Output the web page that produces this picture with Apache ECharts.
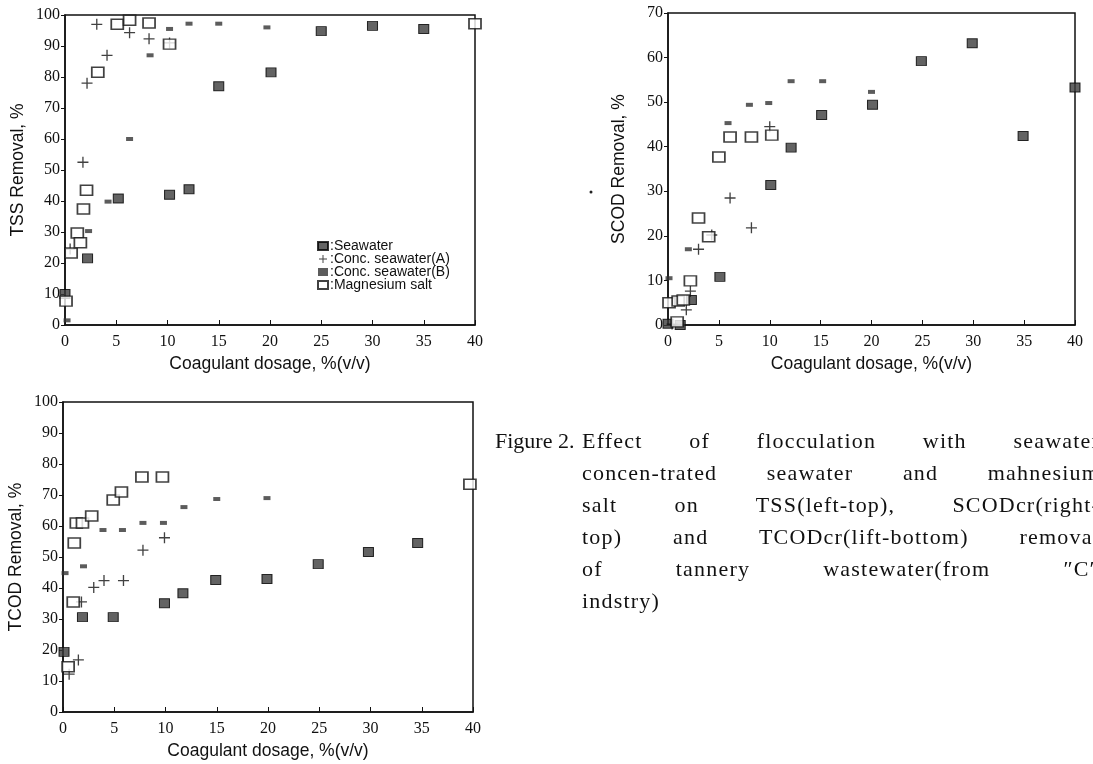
<!DOCTYPE html>
<html>
<head>
<meta charset="utf-8">
<script src="https://cdn.jsdelivr.net/npm/echarts@6/dist/echarts.min.js"></script>
<style>
html, body { margin: 0; padding: 0; background: #fff; overflow: hidden; }
#chart { position: absolute; left: 0; top: 0; width: 1093px; height: 764px; }
.cap { position: absolute; font-family: "Liberation Serif", serif; font-size: 22px; letter-spacing: 1.2px; color: #111; line-height: 24px; white-space: nowrap; }
.just { width: 518px; text-align: justify; text-align-last: justify; white-space: normal; }
</style>
</head>
<body>
<div id="chart"></div>
<div class="cap" style="left:495px;top:429px;letter-spacing:0;">Figure 2.</div>
<div class="cap just" style="left:582px;top:429px;">Effect of flocculation with seawater</div>
<div class="cap just" style="left:582px;top:461px;">concen-trated seawater and mahnesium</div>
<div class="cap just" style="left:582px;top:493px;">salt on TSS(left-top), SCODcr(right-</div>
<div class="cap just" style="left:582px;top:525px;">top) and TCODcr(lift-bottom) removal</div>
<div class="cap just" style="left:582px;top:557px;">of tannery wastewater(from &#8243;C&#8243;</div>
<div class="cap" style="left:582px;top:589px;">indstry)</div>
<script>
// 系列名称
var seriesNames = ['Seawater', 'Conc. seawater(A)', 'Conc. seawater(B)', 'Magnesium salt'];

// TSS (左上)
var tssSeawater = [[0, 10], [2.2, 21.5], [5.2, 40.8], [10.2, 42], [12.1, 43.8], [15, 77], [20.1, 81.5], [25, 94.8], [30, 96.5], [35, 95.5]];
var tssConcA = [[0.5, 24.5], [1.75, 52.5], [2.15, 78], [3.1, 97], [4.1, 87], [6.3, 94.3], [8.2, 92.3], [10.2, 91]];
var tssConcB = [[0.2, 1.5], [2.3, 30.3], [4.2, 39.8], [6.3, 60], [8.3, 87], [10.2, 95.5], [12.1, 97.2], [15, 97.2], [19.7, 96]];
var tssMg = [[0.1, 7.7], [0.6, 23.2], [1.2, 29.7], [1.5, 26.5], [1.8, 37.4], [2.1, 43.5], [3.2, 81.5], [5.1, 97], [6.3, 98.3], [8.2, 97.4], [10.2, 90.6], [40, 97.2]];

// SCOD (右上)
var scodSeawater = [[0, 0.3], [1.2, 0], [2.3, 5.6], [5.1, 10.8], [10.1, 31.4], [12.1, 39.8], [15.1, 47.1], [20.1, 49.4], [24.9, 59.2], [29.9, 63.2], [34.9, 42.4], [40, 53.3]];
var scodConcA = [[0.4, 0.2], [1.8, 3.4], [2.2, 7.6], [3.0, 17], [4.3, 20.2], [6.1, 28.5], [8.2, 21.8], [10, 44.5]];
var scodConcB = [[0.1, 10.5], [2.0, 17], [5.9, 45.3], [8.0, 49.4], [9.9, 49.8], [12.1, 54.7], [15.2, 54.7], [20, 52.3]];
var scodMg = [[0.1, 5.0], [0.9, 0.7], [1.0, 5.4], [1.5, 5.6], [2.2, 9.9], [3.0, 24.0], [4.0, 19.8], [5.0, 37.7], [6.1, 42.2], [8.2, 42.2], [10.2, 42.6]];

// TCOD (左下)
var tcodSeawater = [[0.1, 19.4], [1.9, 30.6], [4.9, 30.6], [9.9, 35.1], [11.7, 38.3], [14.9, 42.6], [19.9, 42.9], [24.9, 47.7], [29.8, 51.6], [34.6, 54.5]];
var tcodConcA = [[0.6, 12.2], [1.5, 16.8], [1.8, 35.5], [3.0, 40.2], [4.0, 42.4], [5.9, 42.4], [7.8, 52.2], [9.9, 56.2]];
var tcodConcB = [[0.2, 44.8], [2.0, 47], [3.9, 58.7], [5.8, 58.7], [7.8, 61], [9.8, 61], [11.8, 66.1], [15, 68.7], [19.9, 69]];
var tcodMg = [[0.5, 14.6], [1.0, 35.5], [1.1, 54.5], [1.3, 61], [1.9, 61], [2.8, 63.2], [4.9, 68.4], [5.7, 71], [7.7, 75.8], [9.7, 75.8], [39.7, 73.5]];

var crossPath = 'path://M4.4,0h1.2v4.4h4.4v1.2h-4.4v4.4h-1.2v-4.4h-4.4v-1.2h4.4z';

var styles = [
    { symbol: 'rect', symbolSize: [10, 9], itemStyle: { color: '#3c3c3c', borderColor: '#000', borderWidth: 1 } },
    { symbol: crossPath, symbolSize: 11, itemStyle: { color: '#111' } },
    { symbol: 'rect', symbolSize: [7, 4], itemStyle: { color: '#333' } },
    { symbol: 'rect', symbolSize: [12, 10], itemStyle: { color: '#fff', borderColor: '#111', borderWidth: 1.6 } }
];

var grids = [
    { left: 65, top: 15, width: 410, height: 310, show: true, borderColor: '#111', borderWidth: 1.5 },
    { left: 668, top: 13, width: 407, height: 312, show: true, borderColor: '#111', borderWidth: 1.5 },
    { left: 63, top: 402, width: 410, height: 310, show: true, borderColor: '#111', borderWidth: 1.5 }
];

var tickFont = { color: '#111', fontFamily: 'Liberation Serif', fontSize: 16 };
var nameFont = { color: '#111', fontFamily: 'Liberation Sans', fontSize: 17.5 };

function xAxisFor(i) {
    return {
        type: 'value', gridIndex: i, min: 0, max: 40, interval: 5,
        name: 'Coagulant dosage, %(v/v)', nameLocation: 'middle', nameGap: 30, nameTextStyle: nameFont,
        axisLine: { lineStyle: { color: '#111', width: 1.5 } },
        axisTick: { inside: true, length: 5, lineStyle: { color: '#111' } },
        axisLabel: Object.assign({ margin: 9 }, tickFont),
        splitLine: { show: false }
    };
}

function yAxisFor(i, max, name, gap) {
    return {
        type: 'value', gridIndex: i, min: 0, max: max, interval: 10,
        name: name, nameLocation: 'middle', nameGap: gap, nameTextStyle: nameFont,
        axisLine: { lineStyle: { color: '#111', width: 1.5 } },
        axisTick: { length: 4, lineStyle: { color: '#111' } },
        axisLabel: Object.assign({ margin: 5 }, tickFont),
        splitLine: { show: false }
    };
}

var dataSets = [
    [tssSeawater, tssConcA, tssConcB, tssMg],
    [scodSeawater, scodConcA, scodConcB, scodMg],
    [tcodSeawater, tcodConcA, tcodConcB, tcodMg]
];

var series = [];
dataSets.forEach(function (set, gi) {
    set.forEach(function (d, si) {
        series.push(Object.assign({
            name: seriesNames[si],
            type: 'scatter',
            xAxisIndex: gi,
            yAxisIndex: gi,
            clip: false,
            data: d
        }, styles[si]));
    });
});

var myChart = echarts.init(document.getElementById('chart'));

var option = {
    backgroundColor: '#fff',
    animation: false,
    grid: grids,
    xAxis: [xAxisFor(0), xAxisFor(1), xAxisFor(2)],
    yAxis: [
        yAxisFor(0, 100, 'TSS Removal, %', 38),
        yAxisFor(1, 70, 'SCOD Removal, %', 40),
        yAxisFor(2, 100, 'TCOD Removal, %', 38)
    ],
    legend: {
        orient: 'vertical',
        left: 312, top: 234,
        itemWidth: 10, itemHeight: 8, itemGap: -1,
        textStyle: { color: '#111', fontFamily: 'Liberation Sans', fontSize: 14, lineHeight: 13, padding: [0, 0, 0, -3] },
        formatter: function (n) { return ':' + n; },
        data: [
            { name: 'Seawater', icon: 'rect' },
            { name: 'Conc. seawater(A)', icon: crossPath },
            { name: 'Conc. seawater(B)', icon: 'rect', itemStyle: { color: '#333' } },
            { name: 'Magnesium salt', icon: 'rect' }
        ]
    },
    graphic: [
        { type: 'circle', shape: { cx: 591, cy: 192, r: 1.5 }, style: { fill: '#222' } }
    ],
    series: series
};

myChart.setOption(option);
</script>
</body>
</html>
